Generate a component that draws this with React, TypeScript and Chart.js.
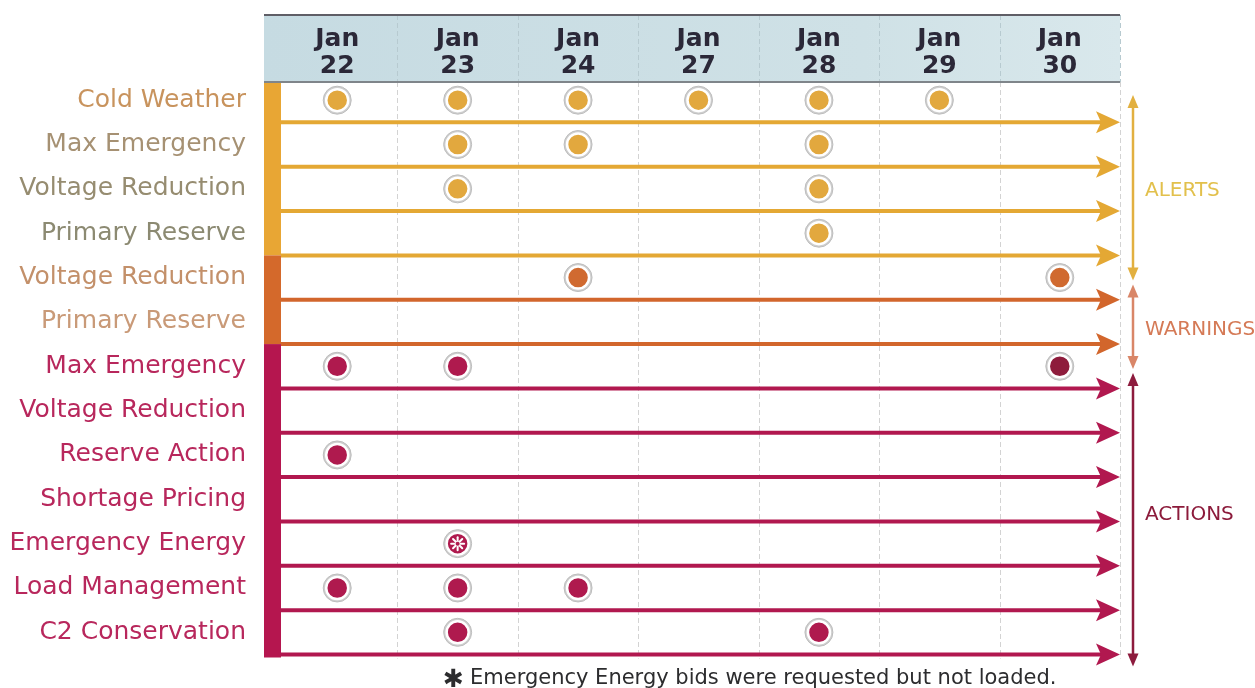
import React, { useEffect, useRef } from "react";
import { Chart, registerables } from "chart.js";

Chart.register(...registerables);

// ---------- data ----------
const dayMonths = ["Jan", "Jan", "Jan", "Jan", "Jan", "Jan", "Jan"];
const dayNumbers = ["22", "23", "24", "27", "28", "29", "30"];

const rowLabels = [
  "Cold Weather",
  "Max Emergency",
  "Voltage Reduction",
  "Primary Reserve",
  "Voltage Reduction",
  "Primary Reserve",
  "Max Emergency",
  "Voltage Reduction",
  "Reserve Action",
  "Shortage Pricing",
  "Emergency Energy",
  "Load Management",
  "C2 Conservation",
];

// day indices (into dayNumbers) on which each row's procedure was used
const eventsByRow: number[][] = [
  [0, 1, 2, 3, 4, 5],
  [1, 2, 4],
  [1, 4],
  [4],
  [2, 6],
  [],
  [0, 1, 6],
  [],
  [0],
  [],
  [1],
  [0, 1, 2],
  [1, 4],
];

// [row, day] of the event whose bids were requested but not loaded
const notLoadedEvents: number[][] = [[10, 1]];
// [row, day] of the event drawn in the darker shade
const darkEvents: number[][] = [[6, 6]];

const groupNames = ["ALERTS", "WARNINGS", "ACTIONS"];
const groupFirstRow = [0, 4, 6];
const groupLastRow = [3, 5, 12];

const footnote = "Emergency Energy bids were requested but not loaded.";

// ---------- styles ----------
const groupLineColors = ["#E4A834", "#D2662C", "#B1184F"];
const groupBarColors = ["#E8A634", "#D4692B", "#B5164F"];
const groupDotColors = ["#E2A83E", "#D06A30", "#AF1A4E"];
const groupSideArrowColors = ["#E2B040", "#D98668", "#8D1B3D"];
const groupSideLabelColors = ["#E2C04C", "#D57A56", "#8C1B3B"];
const darkDotColor = "#8E1C3C";
const rowLabelColors = [
  "#C8935D",
  "#A69173",
  "#968C70",
  "#8C8A72",
  "#C3906A",
  "#C99A78",
  "#B8275C",
  "#B8275C",
  "#B8275C",
  "#B8275C",
  "#B8275C",
  "#B8275C",
  "#B8275C",
];
const FONT = "'DejaVu Sans', 'Noto Sans', sans-serif";

function groupOfRow(r: number): number {
  for (let g = 0; g < groupNames.length; g++) {
    if (r >= groupFirstRow[g] && r <= groupLastRow[g]) return g;
  }
  return 0;
}

const isIn = (list: number[][], r: number, d: number) =>
  list.some((p) => p[0] === r && p[1] === d);

const decorPlugin = {
  id: "decor",
  beforeDraw(chart: any) {
    const { ctx, chartArea: ca, scales } = chart;
    const xs = scales.x;
    const headTop = 15;
    const headBottom = 82;
    const left = ca.left - 13;
    ctx.save();
    // header band
    const grad = ctx.createLinearGradient(left, 0, ca.right, 0);
    grad.addColorStop(0, "#C6DBE2");
    grad.addColorStop(0.7, "#CFE1E6");
    grad.addColorStop(1, "#D9E8EC");
    ctx.fillStyle = grad;
    ctx.fillRect(left, headTop, ca.right - left, headBottom - headTop);
    // dashed column dividers
    ctx.setLineDash([5, 3]);
    ctx.lineWidth = 1;
    for (let i = 0; i < dayNumbers.length; i++) {
      const x = Math.round(xs.getPixelForValue(i + 0.5)) + 0.5;
      ctx.strokeStyle = "#B7CAD0";
      ctx.beginPath();
      ctx.moveTo(x, headTop);
      ctx.lineTo(x, headBottom);
      ctx.stroke();
      ctx.strokeStyle = "#D3D3D3";
      ctx.beginPath();
      ctx.moveTo(x, headBottom);
      ctx.lineTo(x, ca.bottom + 4);
      ctx.stroke();
    }
    ctx.setLineDash([]);
    // header borders
    ctx.strokeStyle = "#5F5E66";
    ctx.lineWidth = 2;
    ctx.beginPath();
    ctx.moveTo(left, headTop);
    ctx.lineTo(ca.right, headTop);
    ctx.stroke();
    ctx.strokeStyle = "#7F858A";
    ctx.beginPath();
    ctx.moveTo(left, headBottom);
    ctx.lineTo(ca.right, headBottom);
    ctx.stroke();
    ctx.restore();
  },
  beforeDatasetsDraw(chart: any) {
    const { ctx, chartArea: ca, scales } = chart;
    const ys = scales.y;
    const barLeft = ca.left - 13;
    const barRight = ca.left + 4;
    ctx.save();
    // left colour bar
    for (let g = 0; g < groupNames.length; g++) {
      const y0 = g === 0 ? 83 : ys.getPixelForValue(groupFirstRow[g] - 0.5);
      const y1 =
        g === groupNames.length - 1
          ? ys.getPixelForValue(groupLastRow[g] + 0.5) + 3
          : ys.getPixelForValue(groupLastRow[g] + 0.5);
      ctx.fillStyle = groupBarColors[g];
      ctx.fillRect(barLeft, y0, barRight - barLeft, y1 - y0);
    }
    // row arrows
    for (let r = 0; r < rowLabels.length; r++) {
      const g = groupOfRow(r);
      const y = ys.getPixelForValue(r + 0.5);
      const tip = ca.right;
      ctx.strokeStyle = groupLineColors[g];
      ctx.fillStyle = groupLineColors[g];
      ctx.lineWidth = 4;
      ctx.beginPath();
      ctx.moveTo(barRight, y);
      ctx.lineTo(tip - 14, y);
      ctx.stroke();
      ctx.beginPath();
      ctx.moveTo(tip, y);
      ctx.lineTo(tip - 24, y - 11);
      ctx.lineTo(tip - 19, y);
      ctx.lineTo(tip - 24, y + 11);
      ctx.closePath();
      ctx.fill();
    }
    ctx.restore();
  },
  afterDatasetsDraw(chart: any) {
    const { ctx, chartArea: ca, scales } = chart;
    const xs = scales.x;
    const ys = scales.y;
    ctx.save();
    // asterisk marks
    for (const [r, d] of notLoadedEvents) {
      const cx = xs.getPixelForValue(d);
      const cy = ys.getPixelForValue(r);
      ctx.strokeStyle = "#FFFFFF";
      ctx.lineWidth = 2;
      ctx.lineCap = "round";
      for (let k = 0; k < 4; k++) {
        const a = (k * Math.PI) / 4;
        ctx.beginPath();
        ctx.moveTo(cx - 6.5 * Math.cos(a), cy - 6.5 * Math.sin(a));
        ctx.lineTo(cx + 6.5 * Math.cos(a), cy + 6.5 * Math.sin(a));
        ctx.stroke();
      }
      ctx.fillStyle = groupDotColors[2];
      ctx.beginPath();
      ctx.arc(cx, cy, 2, 0, Math.PI * 2);
      ctx.fill();
    }
    // side group arrows and labels
    const ax = ca.right + 13;
    for (let g = 0; g < groupNames.length; g++) {
      const topOff = g === 0 ? 17 : 29;
      const botOff = g === groupNames.length - 1 ? 12 : 25;
      const y0 = ys.getPixelForValue(groupFirstRow[g] - 0.5) + topOff;
      const y1 = ys.getPixelForValue(groupLastRow[g] + 0.5) + botOff;
      ctx.strokeStyle = groupSideArrowColors[g];
      ctx.fillStyle = groupSideArrowColors[g];
      ctx.lineWidth = 2.5;
      ctx.lineCap = "butt";
      ctx.beginPath();
      ctx.moveTo(ax, y0 + 8);
      ctx.lineTo(ax, y1 - 8);
      ctx.stroke();
      ctx.beginPath();
      ctx.moveTo(ax, y0);
      ctx.lineTo(ax - 5.5, y0 + 13);
      ctx.lineTo(ax + 5.5, y0 + 13);
      ctx.closePath();
      ctx.fill();
      ctx.beginPath();
      ctx.moveTo(ax, y1);
      ctx.lineTo(ax - 5.5, y1 - 13);
      ctx.lineTo(ax + 5.5, y1 - 13);
      ctx.closePath();
      ctx.fill();
      ctx.fillStyle = groupSideLabelColors[g];
      ctx.font = `20px ${FONT}`;
      ctx.textAlign = "left";
      ctx.textBaseline = "middle";
      const my = g === 2 ? (y0 + y1) / 2 - 5 : (y0 + y1) / 2 + 3;
      ctx.fillText(groupNames[g], ax + 12, my);
    }
    // footnote
    ctx.fillStyle = "#2C2C2E";
    ctx.textBaseline = "middle";
    ctx.textAlign = "left";
    ctx.font = `bold 25px ${FONT}`;
    ctx.fillText("\u2731", 443, 680);
    ctx.font = `21px ${FONT}`;
    ctx.fillText(footnote, 470, 679);
    ctx.restore();
  },
};

export default function App() {
  const canvasRef = useRef<HTMLCanvasElement | null>(null);

  useEffect(() => {
    const canvas = canvasRef.current;
    if (!canvas) return;

    const datasets: any[] = [];
    for (let g = 0; g < groupNames.length; g++) {
      const pts: { x: number; y: number }[] = [];
      const colors: string[] = [];
      for (let r = groupFirstRow[g]; r <= groupLastRow[g]; r++) {
        for (const d of eventsByRow[r]) {
          pts.push({ x: d, y: r });
          colors.push(isIn(darkEvents, r, d) ? darkDotColor : groupDotColors[g]);
        }
      }
      datasets.push({
        label: groupNames[g],
        data: pts,
        order: 1,
        showLine: false,
        pointRadius: 11,
        pointBackgroundColor: colors,
        pointBorderColor: "#FFFFFF",
        pointBorderWidth: 2.5,
      });
      datasets.push({
        label: groupNames[g] + " halo",
        data: pts,
        order: 2,
        showLine: false,
        pointRadius: 14,
        pointBackgroundColor: "#CFCFCF",
        pointBorderColor: "#BDBDBD",
        pointBorderWidth: 1,
      });
    }

    const chart = new Chart(canvas, {
      type: "scatter",
      data: { datasets },
      plugins: [decorPlugin],
      options: {
        responsive: false,
        animation: false,
        events: [],
        layout: { padding: { left: 0, top: 0, right: 135, bottom: 33.5 } },
        plugins: { legend: { display: false }, tooltip: { enabled: false } },
        scales: {
          x: {
            type: "linear",
            position: "top",
            min: -0.5,
            max: dayNumbers.length - 0.5,
            afterBuildTicks: (s: any) => {
              s.ticks = dayNumbers.map((_, i) => ({ value: i }));
            },
            afterFit: (s: any) => {
              s.height = 78;
              s.paddingLeft = 0;
              s.paddingRight = 0;
              s.paddingTop = 0;
              s.paddingBottom = 0;
            },
            grid: { display: false, drawTicks: false },
            border: { display: false },
            ticks: {
              autoSkip: false,
              maxRotation: 0,
              padding: -2,
              color: "#2B2838",
              font: { family: FONT, size: 25, weight: "bold", lineHeight: 1.08 },
              callback: (_v: any, i: number) => [dayMonths[i], dayNumbers[i]],
            },
          },
          y: {
            type: "linear",
            min: -0.5,
            max: rowLabels.length - 0.5,
            reverse: true,
            afterBuildTicks: (s: any) => {
              s.ticks = rowLabels.map((_, i) => ({ value: i }));
            },
            afterFit: (s: any) => {
              s.width = 277;
              s.paddingLeft = 0;
              s.paddingRight = 0;
              s.paddingTop = 0;
              s.paddingBottom = 0;
            },
            grid: { display: false, drawTicks: false },
            border: { display: false },
            ticks: {
              autoSkip: false,
              padding: 31,
              color: (c: any) => rowLabelColors[c.index] || "#B8275C",
              font: { family: FONT, size: 25 },
              callback: (_v: any, i: number) => rowLabels[i],
            },
          },
        },
      } as any,
    });
    return () => chart.destroy();
  }, []);

  return (
    <div style={{ position: "absolute", left: 0, top: 0, width: 1255, height: 688, background: "#FFFFFF" }}>
      <canvas ref={canvasRef} width={1255} height={688} style={{ display: "block" }} />
    </div>
  );
}
